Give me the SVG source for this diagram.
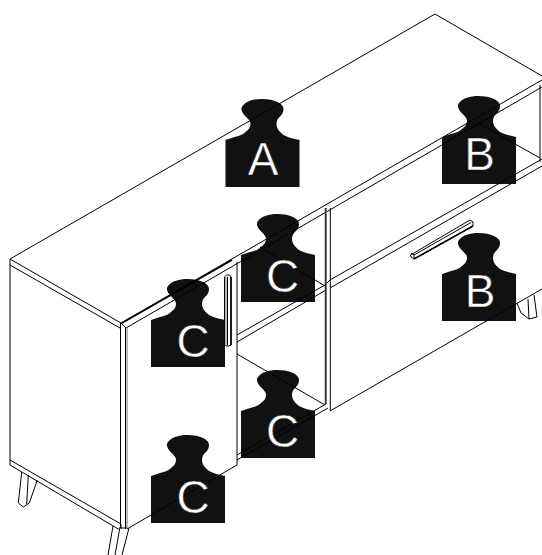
<svg xmlns="http://www.w3.org/2000/svg" width="542" height="555" viewBox="0 0 542 555">
<style>
.l{fill:none;stroke:#000;stroke-width:1}
.g{fill:none;stroke:#777;stroke-width:1}
.h{fill:none;stroke:#000;stroke-width:1.6}
.w{fill:#fff;stroke:#000;stroke-width:1;stroke-linejoin:round}
.tag{fill:#111}
text{font-family:"Liberation Sans",Arial,sans-serif;font-size:46px;fill:#fff;stroke:#111;stroke-width:.5;text-anchor:middle}
</style>
<defs>
<path id="weight" d="M0 88V41C3 40 6 39 9 38C13 37 17 36 20 33C23 31 25 28 25 25C25 21 21 19 18 15C16 12 15 9 17 7C21 2 28 0 36 0C43 0 48 1 52 3C56 5 58 7 58 10C58 14 56 16 54 18C52 20 51 22 51 25C51 29 54 33 58 36C62 38 68 40 74 41V88Z"/>
</defs>
<rect width="542" height="555" fill="#fff"/>
<g id="tags">
<use class="tag" href="#weight" x="225.5" y="99"/>
<use class="tag" href="#weight" x="442" y="96"/>
<use class="tag" href="#weight" x="442" y="233"/>
<use class="tag" href="#weight" x="241" y="214"/>
<use class="tag" href="#weight" x="151" y="279"/>
<use class="tag" href="#weight" x="241" y="370"/>
<use class="tag" href="#weight" x="151" y="435"/>
</g>
<g id="furniture">
<path class="l" d="M10 259L435 14L542 76M10 259L121 323M10 265L120 328M10 259V460L121 524V529M120.500 323V528M10 460V465L120 530"/>
<path class="l" d="M121 323L542 80M126 328L542 87"/>
<path class="h" d="M122 323L232 260"/>
<path class="l" d="M121 323L126 328M121 528H127M125.500 328V529"/>
<path class="g" d="M127 328V528"/>
<path class="l" d="M127 529L237 465M237 262V465"/>
<path class="l" d="M325.300 208V404M330.300 208V411M325 285L330 280M330 411L542 289"/>
<path class="g" d="M326.500 208V404"/>
<path class="l" d="M237 335L325 285M237 342L326 290M330 280L542 159M330 288L542 166"/>
<path class="l" d="M260 247L325 286M237 354L325 405M237 455L326 404M237 460L328 408M478 123L540 158M540 85V162"/>
</g>
<g id="handles">
<path class="w" d="M224.500 277L226.500 275H229.500L231 277V345L229 346H226L224.500 344Z"/>
<path d="M225 277H227.500V345H225Z" fill="#bbb"/>
<path class="l" d="M227.500 277V345"/>
<path class="h" d="M231 277V345"/>
<path class="w" d="M410.500 255L470 220L473 222V226L414 259L411 257Z"/>
<path class="l" d="M414 255L471 222.500M414 255V259M411 253L414 255"/>
<path class="h" d="M414 259L473 226"/>
</g>
<g id="legs">
<path class="l" d="M21.700 472L18.300 503L23.300 507L29.300 503L37.300 480M28.300 475L26.700 504"/>
<path class="l" d="M113 526L108 555M120 527L115 555M129 528L122 555"/>
<path class="l" d="M517 303L521 313L529 319L537 317L534 295M528 299L529 319"/>
</g>
<g id="labels">
<text x="263" y="174.500">A</text>
<text x="479.500" y="170">B</text>
<text x="480" y="307">B</text>
<text x="282.500" y="292">C</text>
<text x="193" y="357">C</text>
<text x="282.500" y="447">C</text>
<text x="193" y="513">C</text>
</g>
</svg>
